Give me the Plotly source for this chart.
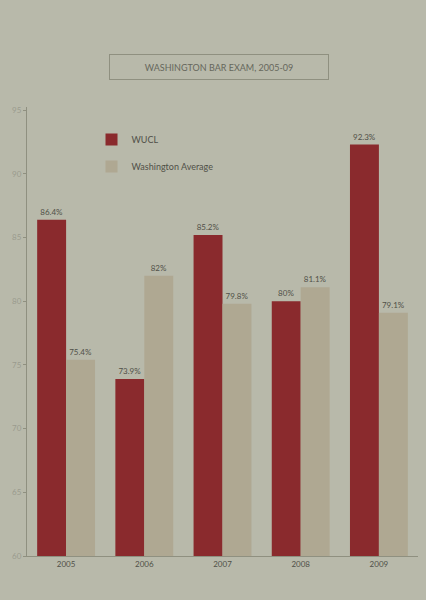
import plotly.graph_objects as go

years = ["2005", "2006", "2007", "2008", "2009"]
wucl = [86.4, 73.9, 85.2, 80.0, 92.3]
wa_avg = [75.4, 82.0, 79.8, 81.1, 79.1]
wucl_labels = ["86.4%", "73.9%", "85.2%", "80%", "92.3%"]
avg_labels = ["75.4%", "82%", "79.8%", "81.1%", "79.1%"]
y_ticks = [60, 65, 70, 75, 80, 85, 90, 95]

bg = "#b8b9aa"
red = "#8a2a2d"
tan = "#afa892"
txt = "#505048"

fig = go.Figure()
fig.add_trace(go.Bar(x=years, y=wucl, name="WUCL", marker_color=red, marker_line_width=0,
                     legendgroup="a",
                     text=wucl_labels, textposition="outside",
                     textfont=dict(size=8, color=txt), cliponaxis=False))
fig.add_trace(go.Bar(x=years, y=wa_avg, name="Washington Average", marker_color=tan,
                     marker_line_width=0, legendgroup="b",
                     text=avg_labels, textposition="outside",
                     textfont=dict(size=8, color=txt), cliponaxis=False))

fig.update_layout(
    width=426, height=600,
    margin=dict(l=27, r=8, t=107, b=44),
    paper_bgcolor=bg, plot_bgcolor=bg,
    barmode="group", bargap=0.26, bargroupgap=0,
    font=dict(family="Lato, sans-serif", size=8, color=txt),
    showlegend=True,
    legend=dict(x=0.165, y=0.96, xanchor="left", yanchor="top",
                bgcolor="rgba(0,0,0,0)", font=dict(size=9, color=txt),
                tracegroupgap=8, itemwidth=30),
    xaxis=dict(showline=True, linecolor="#8f9080", linewidth=1, ticks="",
               tickfont=dict(size=8, color=txt), showgrid=False),
    yaxis=dict(range=[60, 95.25], tickvals=y_ticks, showline=True, linecolor="#8f9080",
               linewidth=1, ticks="outside", ticklen=3, tickcolor="#8f9080",
               tickfont=dict(size=8, color="#9a9b8e"), showgrid=False, zeroline=False),
    annotations=[dict(text="WASHINGTON BAR EXAM, 2005-09", xref="paper", yref="paper",
                      x=0.49, y=1.089, xanchor="center", yanchor="middle", showarrow=False,
                      width=208, height=14,
                      font=dict(size=9, color="#66675c"), bordercolor="#8f9080",
                      borderwidth=1, borderpad=5, bgcolor=bg)],
)
fig.write_html("out.html")
